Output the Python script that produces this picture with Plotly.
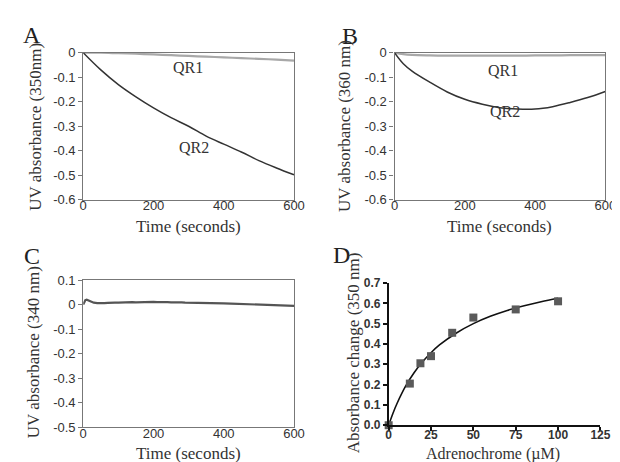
import plotly.graph_objects as go

# ---------------- data ----------------
time_a = [0, 50, 100, 150, 200, 250, 300, 350, 400, 450, 500, 550, 600]
a_qr2 = [0, -0.07, -0.13, -0.18, -0.225, -0.265, -0.30, -0.34, -0.373, -0.405, -0.44, -0.47, -0.498]
a_qr1 = [0, 0, -0.002, -0.004, -0.007, -0.010, -0.013, -0.016, -0.019, -0.022, -0.025, -0.028, -0.032]

time_b = [0, 25, 50, 100, 150, 200, 250, 300, 350, 400, 450, 500, 550, 600]
b_qr2 = [0, -0.045, -0.075, -0.12, -0.16, -0.19, -0.21, -0.224, -0.23, -0.23, -0.22, -0.203, -0.183, -0.158]
b_qr1 = [0, -0.006, -0.009, -0.011, -0.012, -0.012, -0.012, -0.012, -0.012, -0.011, -0.011, -0.010, -0.010, -0.010]

time_c = [0, 3, 6, 10, 15, 20, 25, 30, 40, 50, 60, 70, 80, 90, 100, 110, 120, 130, 140, 150,
          160, 170, 180, 190, 200, 210, 220, 230, 240, 250, 260, 270, 280, 290, 300, 320, 340,
          360, 380, 400, 420, 440, 460, 480, 500, 520, 540, 560, 580, 600]
c_vals = [0.0, 0.012, 0.018, 0.020, 0.017, 0.014, 0.010, 0.008, 0.006, 0.005, 0.006, 0.007, 0.006,
          0.008, 0.008, 0.009, 0.010, 0.009, 0.010, 0.009, 0.010, 0.011, 0.010, 0.010, 0.011,
          0.010, 0.011, 0.010, 0.010, 0.009, 0.010, 0.009, 0.009, 0.008, 0.008, 0.007, 0.007,
          0.006, 0.005, 0.005, 0.004, 0.003, 0.003, 0.002, 0.001, 0.000, -0.001, -0.002, -0.003, -0.005]

conc_d = [0, 12.5, 18.75, 25, 37.5, 50, 75, 100]
abs_d = [0.0, 0.205, 0.305, 0.34, 0.455, 0.53, 0.57, 0.61]
fit_x = [0, 2.5, 5, 10, 15, 20, 25, 30, 40, 50, 60, 70, 80, 90, 100]
fit_y = [0, 0.058, 0.108, 0.192, 0.258, 0.312, 0.357, 0.395, 0.454, 0.50, 0.536, 0.565, 0.588, 0.608, 0.625]

time_ticks = [0, 200, 400, 600]
conc_ticks = [0, 25, 50, 75, 100, 125]
yA = [0, -0.1, -0.2, -0.3, -0.4, -0.5, -0.6]
yC = [0.1, 0, -0.1, -0.2, -0.3, -0.4, -0.5]
yD = [0, 0.1, 0.2, 0.3, 0.4, 0.5, 0.6, 0.7]

W, H = 620, 462


def px(x):
    return x / W


def py(y):
    return 1 - y / H


fig = go.Figure()

dark = "#333333"
light = "#a8a8a8"

# Panel A
fig.add_trace(go.Scatter(x=time_a, y=a_qr1, mode="lines", line=dict(color=light, width=2.2, shape="spline"),
                         xaxis="x", yaxis="y", showlegend=False))
fig.add_trace(go.Scatter(x=time_a, y=a_qr2, mode="lines", line=dict(color=dark, width=1.5, shape="spline"),
                         xaxis="x", yaxis="y", showlegend=False))
# Panel B
fig.add_trace(go.Scatter(x=time_b, y=b_qr1, mode="lines", line=dict(color=light, width=2.2, shape="spline"),
                         xaxis="x2", yaxis="y2", showlegend=False))
fig.add_trace(go.Scatter(x=time_b, y=b_qr2, mode="lines", line=dict(color=dark, width=1.5, shape="spline"),
                         xaxis="x2", yaxis="y2", showlegend=False))
# Panel C
fig.add_trace(go.Scatter(x=time_c, y=c_vals, mode="lines", line=dict(color="#555555", width=2.2),
                         xaxis="x3", yaxis="y3", showlegend=False))
# Panel D
fig.add_trace(go.Scatter(x=fit_x, y=fit_y, mode="lines", line=dict(color="#111111", width=1.6, shape="spline"),
                         xaxis="x4", yaxis="y4", showlegend=False, cliponaxis=False))
fig.add_trace(go.Scatter(x=conc_d, y=abs_d, mode="markers",
                         marker=dict(symbol="square", size=8, color="#5a5a5a"),
                         xaxis="x4", yaxis="y4", showlegend=False, cliponaxis=False))

tickfont = dict(family="Liberation Sans, Arial", size=13, color="#333333")
dfont = dict(family="Liberation Sans, Arial", size=12, color="#333333", weight="bold")
boxline = "#777777"


def box_x(domain, anchor):
    return dict(domain=domain, anchor=anchor, range=[0, 600], tickvals=time_ticks, showgrid=False,
                zeroline=False, showline=True, linecolor=boxline, linewidth=1.2, mirror=True,
                ticks="", tickfont=tickfont, ticklabelstandoff=-6, fixedrange=True)


def box_y(domain, anchor, rng, tv):
    return dict(domain=domain, anchor=anchor, range=rng, tickvals=tv,
                ticktext=["0" if abs(v) < 1e-9 else ("%g" % v) for v in tv],
                showgrid=False, zeroline=False, showline=True, linecolor=boxline, linewidth=1.2,
                mirror=True, ticks="outside", ticklen=4, tickcolor=boxline, tickfont=tickfont, fixedrange=True)


fig.update_layout(
    width=W, height=H, margin=dict(l=0, r=0, t=0, b=0),
    paper_bgcolor="white", plot_bgcolor="white",
    xaxis=box_x([px(73), px(289)], "y"),
    yaxis=box_y([py(191), py(39)], "x", [-0.6, 0], yA),
    xaxis2=box_x([px(392), px(608)], "y2"),
    yaxis2=box_y([py(191), py(39)], "x2", [-0.6, 0], yA),
    xaxis3=box_x([px(73), px(289)], "y3"),
    yaxis3=box_y([py(426), py(274)], "x3", [-0.5, 0.1], yC),
    xaxis4=dict(domain=[px(386), px(603)], anchor="y4", range=[0, 125], tickvals=conc_ticks,
                showgrid=False, zeroline=False, showline=True, linecolor="#111111", linewidth=1.5,
                ticks="outside", ticklen=4, tickwidth=1.5, tickcolor="#111111",
                tickfont=dfont, ticklabelstandoff=-6, fixedrange=True),
    yaxis4=dict(domain=[py(424), py(277)], anchor="x4", range=[0, 0.7],
                tickvals=yD, tickformat=".1f",
                showgrid=False, zeroline=False, showline=True, linecolor="#111111", linewidth=1.5,
                ticks="outside", ticklen=4, tickwidth=1.5, tickcolor="#111111",
                tickfont=dfont, fixedrange=True),
)

serif = "Liberation Serif, Times New Roman, serif"
ann = []


def text(x, y, s, size=17, angle=0, color="#333333"):
    ann.append(dict(x=px(x), y=py(y), xref="paper", yref="paper", text=s, showarrow=False,
                    textangle=angle, font=dict(family=serif, size=size, color=color),
                    xanchor="center", yanchor="middle"))


# panel letters
text(20, 21, "A", 24, color="#222222")
text(346, 22, "B", 24, color="#222222")
text(20, 249, "C", 24, color="#222222")
text(338, 248, "D", 24, color="#222222")
# series labels
text(180, 54, "QR1", 16)
text(187, 137, "QR2", 16)
text(503, 57, "QR1", 16)
text(505, 100, "QR2", 16)
# axis titles
text(181, 219, "Time (seconds)", 17)
text(500, 219, "Time (seconds)", 17)
text(181, 453, "Time (seconds)", 17)
text(493, 454, "Adrenochrome (µM)", 16)
text(24, 115, "UV absorbance (350nm)", 17, angle=-90)
text(341, 115, "UV absorbance (360 nm)", 17, angle=-90)
text(22, 348, "UV absorbance (340 nm)", 17, angle=-90)
text(350, 349, "Absorbance change (350 nm)", 17, angle=-90)

fig.update_layout(annotations=ann)

fig.write_html("out.html")
